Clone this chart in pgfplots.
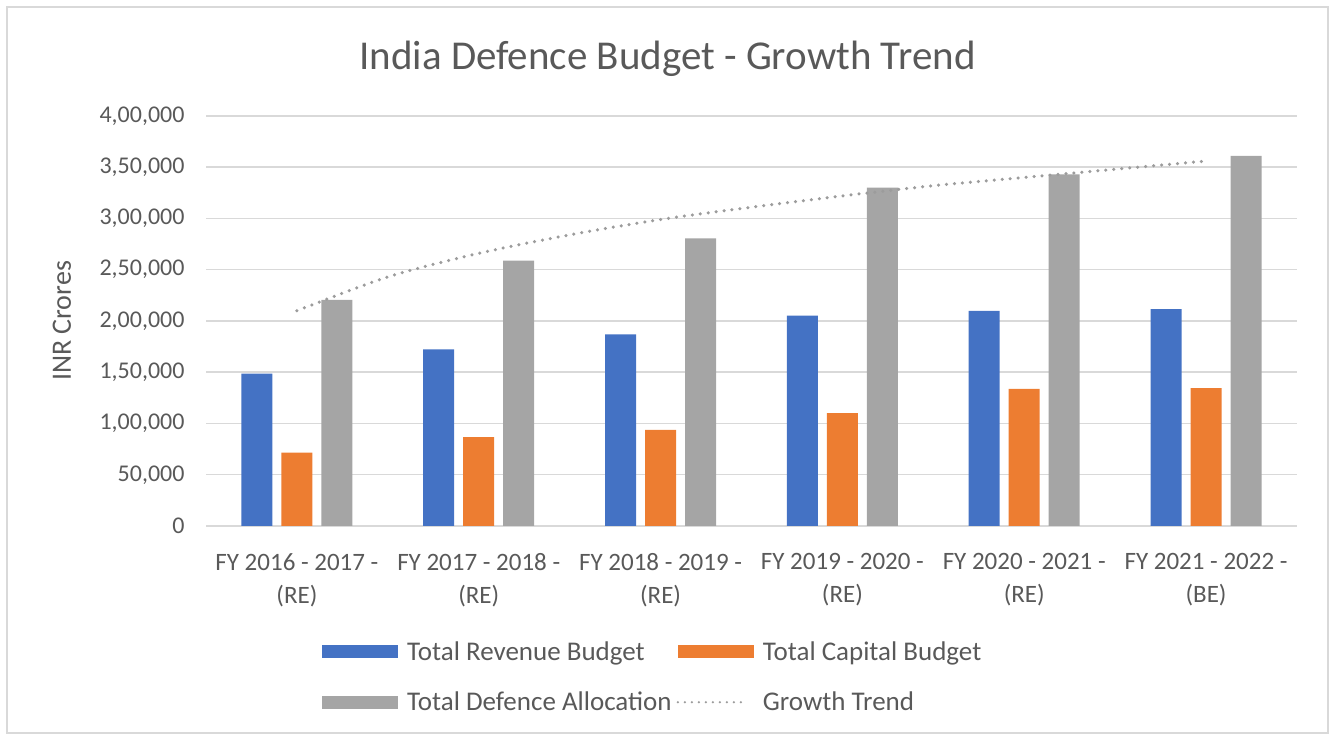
\documentclass[border=0pt]{standalone}
\usepackage{fontspec}
\setmainfont{Carlito}
\usepackage{pgfplots}
\pgfplotsset{compat=1.18}
\definecolor{revc}{HTML}{4472C4}
\definecolor{capc}{HTML}{ED7D31}
\definecolor{totc}{HTML}{A5A5A5}
\definecolor{trendc}{HTML}{9C9C9C}
\definecolor{txtc}{HTML}{595959}
\definecolor{gridc}{HTML}{D9D9D9}

\begin{document}
\begin{tikzpicture}
\useasboundingbox (0,0) rectangle (1331bp,736bp);
\draw[gridc, line width=1.5bp] (7bp,3bp) rectangle (1328bp,729bp);
\node[text=txtc, font=\fontsize{41bp}{46bp}\selectfont] at (667.5bp,677bp) {India Defence Budget - Growth Trend};

\begin{axis}[
    at={(206bp,210bp)}, anchor=south west,
    scale only axis,
    width=1091bp, height=410bp,
    xmin=0.5, xmax=6.5,
    ymin=0, ymax=400000,
    scaled y ticks=false,
    ybar=9bp, bar width=31bp,
    axis line style={draw=none},
    tick style={draw=none},
    ymajorgrids=true,
    grid style={gridc, line width=1.5bp},
    xtick={1,2,3,4,5,6},
    xticklabels={{FY 2016 - 2017 -\\(RE)}, {FY 2017 - 2018 -\\(RE)}, {FY 2018 - 2019 -\\(RE)},
                 {FY 2019 - 2020 -\\(RE)}, {FY 2020 - 2021 -\\(RE)}, {FY 2021 - 2022 -\\(BE)}},
    ytick={0,50000,100000,150000,200000,250000,300000,350000,400000},
    yticklabels={0,{50,000},{1,00,000},{1,50,000},{2,00,000},{2,50,000},{3,00,000},{3,50,000},{4,00,000}},
    ticklabel style={text=txtc},
    xticklabel style={align=center, yshift=-20bp, font=\fontsize{25bp}{33bp}\selectfont},
    yticklabel style={xshift=-18bp, font=\fontsize{24bp}{28bp}\selectfont},
    ylabel={INR Crores},
    ylabel style={at={(axis description cs:-0.132,0.5)}, anchor=center, text=txtc, font=\fontsize{28bp}{32bp}\selectfont},
    legend columns=2,
    legend cell align=left,
    legend style={draw=none, fill=none, at={(axis description cs:0.1063,-0.282)}, anchor=north west,
        text=txtc, font=\fontsize{27bp}{31bp}\selectfont, inner sep=0pt, row sep=30bp,
        nodes={inner sep=0pt},
        /tikz/every odd column/.append style={column sep=9bp},
        /tikz/every even column/.append style={column sep=5bp}},
    legend image code/.code={\fill[#1] (0bp,-6.5bp) rectangle (76bp,6.5bp);},
]
\addplot[fill=revc, draw=none] coordinates {(1,148600) (2,172400) (3,187000) (4,205200) (5,209800) (6,211700)};
\addlegendentry{Total Revenue Budget}
\addplot[fill=capc, draw=none] coordinates {(1,71500) (2,86800) (3,93900) (4,110000) (5,133700) (6,134600)};
\addlegendentry{Total Capital Budget}
\addplot[fill=totc, draw=none] coordinates {(1,220500) (2,258800) (3,280700) (4,330000) (5,343000) (6,361000)};
\addlegendentry{Total Defence Allocation}
\addplot[sharp plot, smooth, trendc, line width=3.5bp, line cap=round, dash pattern=on 0bp off 8bp,
    legend image code/.code={\path[draw=none, fill=none] (0bp,-6.5bp) rectangle (76bp,6.5bp);
        \draw[trendc, line width=2.5bp, line cap=round, dash pattern=on 0bp off 7bp, fill=none] (0bp,0bp) -- (63bp,0bp);}]
    coordinates {(1,210000) (1.5,243000) (2,266000) (2.5,284000) (3,299000) (3.5,311000)
                 (4,322000) (4.5,332000) (5,340000) (5.5,348000) (6,356000)};
\addlegendentry{Growth Trend}
\end{axis}
\end{tikzpicture}
\end{document}
